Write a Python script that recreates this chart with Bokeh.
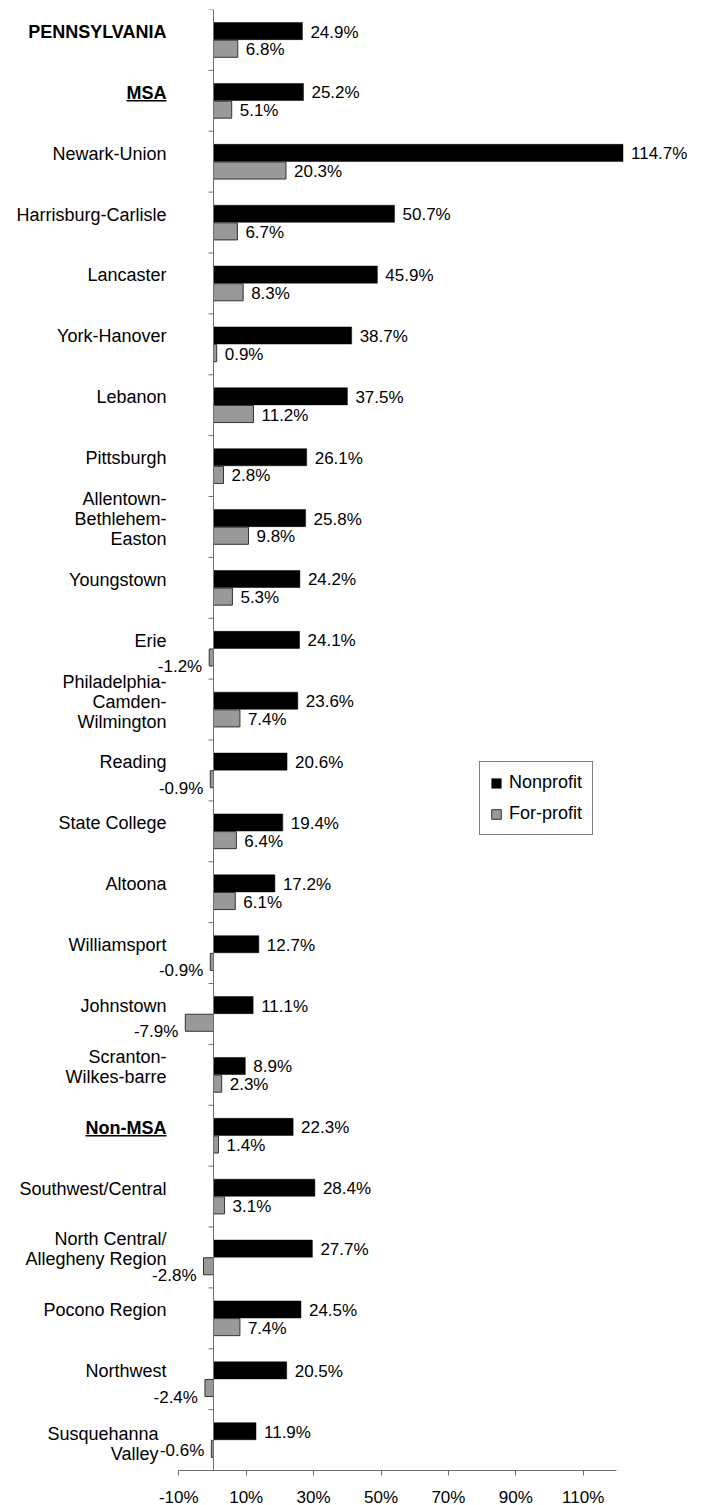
from math import pi

from bokeh.core.properties import value
from bokeh.embed import file_html
from bokeh.models import (ColumnDataSource, FixedTicker, Legend, LegendItem,
                          LinearAxis, Range1d)
from bokeh.plotting import figure
from bokeh.resources import INLINE

# ---- data -----------------------------------------------------------------
categories = [
    "PENNSYLVANIA", "MSA", "Newark-Union", "Harrisburg-Carlisle", "Lancaster",
    "York-Hanover", "Lebanon", "Pittsburgh", "Allentown-\nBethlehem-\nEaston",
    "Youngstown", "Erie", "Philadelphia-\nCamden-\nWilmington", "Reading",
    "State College", "Altoona", "Williamsport", "Johnstown",
    "Scranton-\nWilkes-barre", "Non-MSA", "Southwest/Central",
    "North Central/\nAllegheny Region", "Pocono Region", "Northwest",
    "Susquehanna\nValley",
]
nonprofit = [24.9, 25.2, 114.7, 50.7, 45.9, 38.7, 37.5, 26.1, 25.8, 24.2, 24.1,
             23.6, 20.6, 19.4, 17.2, 12.7, 11.1, 8.9, 22.3, 28.4, 27.7, 24.5,
             20.5, 11.9]
forprofit = [6.8, 5.1, 20.3, 6.7, 8.3, 0.9, 11.2, 2.8, 9.8, 5.3, -1.2, 7.4,
             -0.9, 6.4, 6.1, -0.9, -7.9, 2.3, 1.4, 3.1, -2.8, 7.4, -2.4, -0.6]
series_names = ["Nonprofit", "For-profit"]
headers = ["PENNSYLVANIA", "MSA", "Non-MSA"]
underlined = ["MSA", "Non-MSA"]
tick_values = [-10, 10, 30, 50, 70, 90, 110]
tick_labels = ["-10%", "10%", "30%", "50%", "70%", "90%", "110%"]

# ---- layout / style ---------------------------------------------------------
W, H = 702, 1505
TOP, BOTTOM = 9, 35                       # space above / below the bar area
ZERO_PX, PX_PER_PCT = 213, 3.57          # bar scale
AXIS_ZERO_PX, AXIS_PX_PER_PCT = 212, 3.37  # printed axis scale
FONT = value("Liberation Sans")
AXIS_COLOR = "#6e6e6e"
BAR_H, SHIFT = 0.28, 0.145
LABEL_GAP = 47
LABEL_DY = -8
BOLD_WIDTHS = {"N": 0.722, "o": 0.611, "n": 0.611, "-": 0.333, "M": 0.833,
               "S": 0.667, "A": 0.722}

n = len(categories)
row_px = (H - TOP - BOTTOM) / n
centers = [i + 0.5 for i in range(n)]

# the plot area runs to the bottom edge so the value axis can be pinned at
# the last category boundary with its labels underneath
p = figure(width=W, height=H,
           x_range=Range1d(-ZERO_PX / PX_PER_PCT, (W - ZERO_PX) / PX_PER_PCT),
           y_range=Range1d(n + BOTTOM / row_px, 0),
           x_axis_location=None, y_axis_location=None,
           toolbar_location=None, output_backend="svg",
           min_border_left=0, min_border_right=0,
           min_border_top=TOP, min_border_bottom=0,
           outline_line_color=None, background_fill_color="white",
           border_fill_color="white")
p.grid.visible = False
p.extra_x_ranges = {"ticks": Range1d(-AXIS_ZERO_PX / AXIS_PX_PER_PCT,
                                     (W - AXIS_ZERO_PX) / AXIS_PX_PER_PCT)}

src = ColumnDataSource(dict(
    nonprofit=nonprofit,
    forprofit=forprofit,
    y_np=[c - SHIFT for c in centers],
    y_fp=[c + SHIFT for c in centers],
))

np_r = p.hbar(y="y_np", left=0, right="nonprofit", height=BAR_H, source=src,
              fill_color="black", line_color="black", line_width=0.5)
fp_r = p.hbar(y="y_fp", left=0, right="forprofit", height=BAR_H, source=src,
              fill_color="#999999", line_color="#333333", line_width=1)

# vertical category axis at zero, ticks between categories
p.segment(x0=[0], y0=[0], x1=[0], y1=[n], line_color=AXIS_COLOR, line_width=1)
p.ray(x=[0] * (n + 1), y=list(range(n + 1)), length=5, length_units="screen",
      angle=pi, line_color=AXIS_COLOR, line_width=1)

# horizontal value axis, pinned to the bottom category boundary
xaxis = LinearAxis(x_range_name="ticks",
                   fixed_location=n,
                   ticker=FixedTicker(ticks=tick_values),
                   bounds=(-10, 120),
                   major_label_overrides=dict(zip(tick_values, tick_labels)),
                   major_tick_in=0, major_tick_out=5,
                   minor_tick_in=0, minor_tick_out=0,
                   axis_line_color=AXIS_COLOR,
                   major_tick_line_color=AXIS_COLOR,
                   major_label_text_font="Liberation Sans",
                   major_label_text_font_size="17px",
                   major_label_text_color="black",
                   major_label_standoff=12)
p.add_layout(xaxis, "below")

# value labels
val_style = dict(text_font=FONT, text_font_size="17px", text_color="black",
                 text_baseline="middle")
p.text(x=nonprofit, y=[c - SHIFT for c in centers],
       text=[f"{v:.1f}%" for v in nonprofit],
       x_offset=8, y_offset=1, text_align="left", **val_style)

pos = [i for i, v in enumerate(forprofit) if v >= 0]
neg = [i for i, v in enumerate(forprofit) if v < 0]
p.text(x=[forprofit[i] for i in pos], y=[centers[i] + SHIFT for i in pos],
       text=[f"{forprofit[i]:.1f}%" for i in pos],
       x_offset=8, y_offset=1, text_align="left", **val_style)
# negative labels sit just below their bar; on the bottom row there is no
# room below, so they stay level with the bar
p.text(x=[forprofit[i] for i in neg], y=[centers[i] + SHIFT for i in neg],
       text=[f"{forprofit[i]:.1f}%" for i in neg],
       x_offset=-7, y_offset=[9 if i < n - 1 else 2 for i in neg],
       text_align="right", **val_style)

# category labels; a bottom-row name sharing space with a negative label
# is pushed left and down to make room for it
x_off, y_off = [], []
for i in range(n):
    crowded = i == n - 1 and forprofit[i] < 0
    x_off.append(-(LABEL_GAP + 8) if crowded else -LABEL_GAP)
    y_off.append(LABEL_DY + 12 if crowded else LABEL_DY)

cat_style = dict(text_font=FONT, text_font_size="18px", text_color="black",
                 text_baseline="middle", text_align="right",
                 text_line_height=1.0)
plain = [i for i, c in enumerate(categories) if c not in headers]
bold = [i for i, c in enumerate(categories) if c in headers]
p.text(x=[0] * len(plain), y=[centers[i] for i in plain],
       text=[categories[i] for i in plain],
       x_offset=[x_off[i] for i in plain], y_offset=[y_off[i] for i in plain],
       **cat_style)
p.text(x=[0] * len(bold), y=[centers[i] for i in bold],
       text=[categories[i] for i in bold], text_font_style="bold",
       x_offset=[x_off[i] for i in bold], y_offset=[y_off[i] for i in bold],
       **cat_style)

# underline for the group headings
ux0, ux1, uy = [], [], []
for i, c in enumerate(categories):
    if c in underlined:
        w = sum(BOLD_WIDTHS.get(ch, 0.6) for ch in c) * 18
        ux0.append(-(LABEL_GAP + w) / PX_PER_PCT)
        ux1.append(-LABEL_GAP / PX_PER_PCT)
        uy.append(centers[i] + (LABEL_DY + 8) / row_px)
p.segment(x0=ux0, y0=uy, x1=ux1, y1=uy, line_color="black", line_width=1.6)

legend = Legend(items=[LegendItem(label=series_names[0], renderers=[np_r]),
                       LegendItem(label=series_names[1], renderers=[fp_r])],
                location=(479, 635 + BOTTOM),
                label_text_font="Liberation Sans", label_text_font_size="18px",
                label_text_color="black",
                glyph_width=12, glyph_height=12, label_height=20,
                label_standoff=7, spacing=10, padding=10, margin=0,
                border_line_color="black", border_line_width=1,
                background_fill_color="white", background_fill_alpha=1)
p.add_layout(legend)

open("out.html", "w").write(file_html(p, INLINE))
